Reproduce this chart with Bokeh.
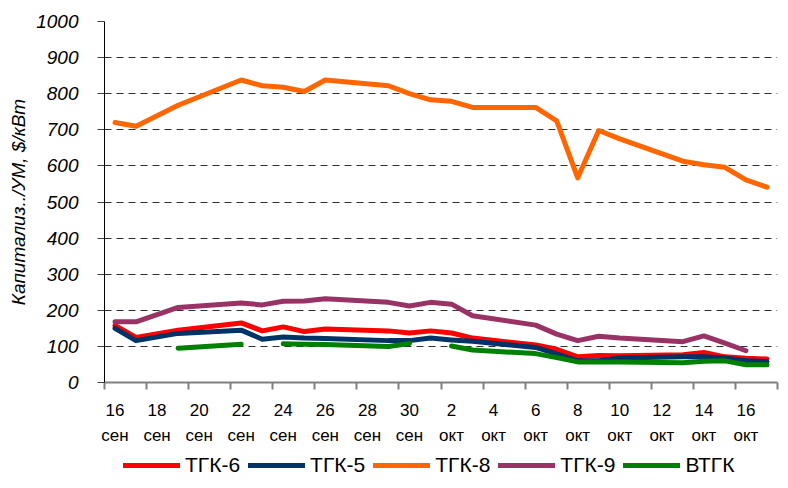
import numpy as np
import pandas as pd
from bokeh.plotting import figure
from bokeh.layouts import column
from bokeh.models import (FixedTicker, LinearAxis, Legend, LegendItem, Range1d,
                          ColumnDataSource)
from bokeh.embed import file_html
from bokeh.resources import INLINE

nan = np.nan

# ---- data -------------------------------------------------------------
dates = ["2008-09-16", "2008-09-17", "2008-09-19", "2008-09-22", "2008-09-23",
         "2008-09-24", "2008-09-25", "2008-09-26", "2008-09-29", "2008-09-30",
         "2008-10-01", "2008-10-02", "2008-10-03", "2008-10-06", "2008-10-07",
         "2008-10-08", "2008-10-09", "2008-10-10", "2008-10-13", "2008-10-14",
         "2008-10-15", "2008-10-16", "2008-10-17"]

tgk6 = [158, 125, 145, 165, 143, 154, 141, 148, 143, 137, 143, 137, 123, 104,
        92, 71, 75, 74, 77, 83, 71, 67, 65]
tgk5 = [150, 116, 136, 145, 120, 126, 123, 122, 116, 116, 123, 118, 114, 97,
        79, 60, 60, 68, 71, 71, 68, 60, 58]
tgk8 = [720, 710, 768, 838, 822, 818, 806, 838, 822, 800, 783, 779, 762, 762,
        725, 567, 698, 675, 613, 603, 596, 561, 541]
tgk9 = [168, 168, 208, 220, 215, 225, 226, 232, 222, 212, 222, 217, 185, 159,
        134, 116, 128, 123, 113, 129, 109, 88, nan]
vtgk = [nan, nan, 95, 106, nan, 107, 106, 105, 100, 108, nan, 101, 90, 80,
        69, 57, 57, 57, 55, 59, 60, 49, 49]

series_names = ["ТГК-6", "ТГК-5", "ТГК-8", "ТГК-9", "ВТГК"]
series_values = [tgk6, tgk5, tgk8, tgk9, vtgk]
series_colors = ["#FF0000", "#003366", "#FF6600", "#993366", "#008000"]

start_date = "2008-09-16"
n_days = 32
day_labels = ["16", "18", "20", "22", "24", "26", "28", "30",
              "2", "4", "6", "8", "10", "12", "14", "16"]
month_labels = ["сен"] * 8 + ["окт"] * 8
y_ticks = [0, 100, 200, 300, 400, 500, 600, 700, 800, 900, 1000]
y_title = "Капитализ../УМ, $/кВт"

FONT = "Liberation Sans"

# ---- main figure ------------------------------------------------------
start = pd.Timestamp(start_date)
xs = np.array([(pd.Timestamp(d) - start).days for d in dates], dtype=float)

p = figure(width=780, height=450, frame_width=673, frame_height=361,
           output_backend="svg", toolbar_location=None,
           x_range=Range1d(-0.5, n_days - 0.5), y_range=Range1d(0, 1000),
           min_border_left=104, min_border_right=3, min_border_top=21,
           min_border_bottom=0)
p.outline_line_color = None
p.background_fill_color = "white"
p.border_fill_color = "white"

label_pos = list(range(0, n_days, 2))
boundaries = [b - 0.5 for b in range(0, n_days + 1, 2)]

# x axis with day numbers
xa = p.xaxis[0]
xa.ticker = FixedTicker(ticks=label_pos, minor_ticks=boundaries)
xa.major_label_overrides = {t: l for t, l in zip(label_pos, day_labels)}
xa.major_tick_line_color = None
xa.major_tick_out = 0
xa.major_tick_in = 0
xa.minor_tick_line_color = "#808080"
xa.minor_tick_line_width = 2
xa.minor_tick_out = 7
xa.minor_tick_in = 0
xa.axis_line_color = "#808080"
xa.axis_line_width = 2
xa.major_label_text_font = FONT
xa.major_label_text_font_size = "17px"
xa.major_label_text_color = "black"
xa.major_label_standoff = 14

# second x axis with month names
xm = LinearAxis(ticker=FixedTicker(ticks=label_pos, minor_ticks=[]),
                major_label_overrides={t: l for t, l in zip(label_pos, month_labels)})
xm.axis_line_color = None
xm.major_tick_line_color = None
xm.minor_tick_line_color = None
xm.major_tick_out = 0
xm.major_tick_in = 0
xm.major_label_text_font = FONT
xm.major_label_text_font_size = "17px"
xm.major_label_text_color = "black"
xm.major_label_standoff = 7
p.add_layout(xm, "below")

# y axis
ya = p.yaxis[0]
ya.ticker = FixedTicker(ticks=y_ticks, minor_ticks=[])
ya.axis_line_color = "black"
ya.axis_line_width = 1
ya.major_tick_line_color = "#404040"
ya.major_tick_out = 7
ya.major_tick_in = 0
ya.major_label_text_font = FONT
ya.major_label_text_font_size = "19px"
ya.major_label_text_font_style = "italic"
ya.major_label_text_color = "black"
ya.major_label_standoff = 19
ya.axis_label = y_title
ya.axis_label_text_font = FONT
ya.axis_label_text_font_size = "19px"
ya.axis_label_text_font_style = "italic"
ya.axis_label_text_color = "black"
ya.axis_label_standoff = 4

p.xgrid.visible = False
p.ygrid.ticker = FixedTicker(ticks=y_ticks[1:])
p.ygrid.grid_line_color = "#303030"
p.ygrid.grid_line_dash = "7 5"
p.ygrid.grid_line_width = 1

for vals, col in zip(series_values, series_colors):
    src = ColumnDataSource(dict(x=xs, y=np.array(vals, dtype=float)))
    p.line("x", "y", source=src, line_color=col, line_width=5,
           line_join="round", line_cap="round")

# ---- legend strip (same series, drawn outside its view) ---------------
pl = figure(width=780, height=30, output_backend="svg", toolbar_location=None,
            x_range=Range1d(0, 1), y_range=Range1d(-2, -1),
            min_border_left=0, min_border_right=0, min_border_top=0,
            min_border_bottom=0)
pl.outline_line_color = None
pl.axis.visible = False
pl.grid.visible = False

items = []
for name, vals, col in zip(series_names, series_values, series_colors):
    src = ColumnDataSource(dict(x=xs, y=np.array(vals, dtype=float)))
    r = pl.line("x", "y", source=src, line_color=col, line_width=5,
                line_join="round", line_cap="round")
    items.append(LegendItem(label=name, renderers=[r]))

legend = Legend(items=items, orientation="horizontal", location=(19, 0),
                glyph_width=57, glyph_height=20, label_standoff=5, spacing=8,
                padding=0, margin=0, background_fill_alpha=0,
                border_line_color=None, label_text_font=FONT,
                label_text_font_size="21px", label_text_color="black")
pl.add_layout(legend)

layout = column(p, pl, spacing=0)
open("out.html", "w").write(file_html(layout, INLINE))
